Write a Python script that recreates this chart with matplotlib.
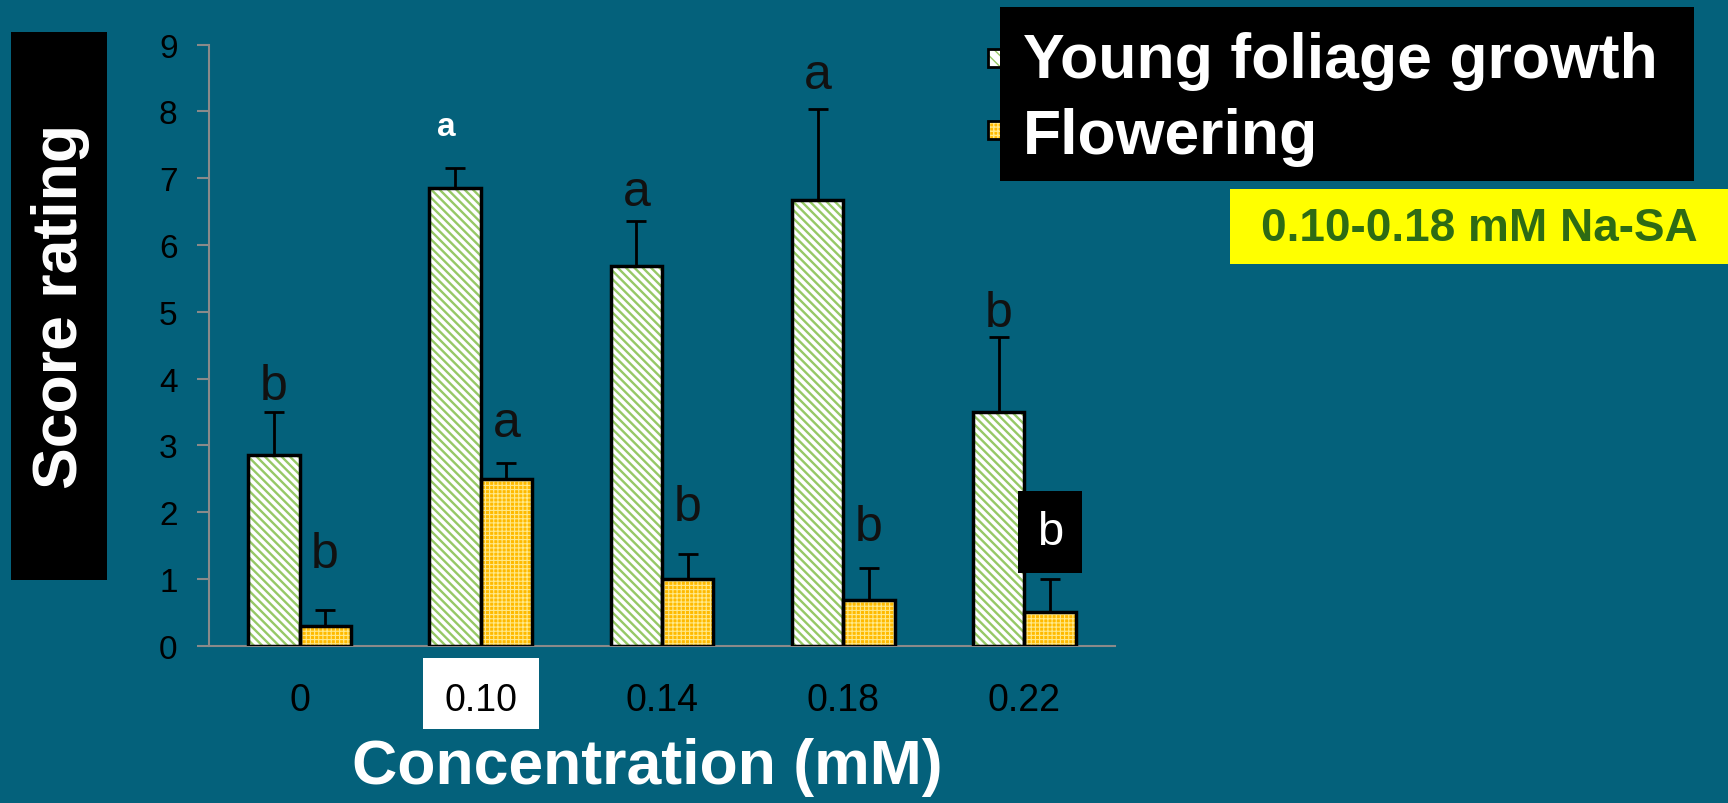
import numpy as np
import matplotlib
matplotlib.use('Agg')
import matplotlib.pyplot as plt
from matplotlib.patches import Rectangle
from matplotlib.transforms import blended_transform_factory

# datos
conc = ['0', '0.10', '0.14', '0.18', '0.22']
young = [2.85, 6.85, 5.68, 6.68, 3.5]
young_err = [0.65, 0.3, 0.68, 1.35, 1.12]
flower = [0.3, 2.5, 1.0, 0.68, 0.5]
flower_err = [0.24, 0.23, 0.37, 0.49, 0.5]
young_letters = ['b', 'a', 'a', 'a', 'b']
young_letter_y = [3.89, 7.77, 6.80, 8.55, 4.98]
flower_letters = ['b', 'a', 'b', 'b', 'b']
flower_letter_y = [1.37, 3.33, 2.08, 1.78, 1.70]
yticks = [0, 1, 2, 3, 4, 5, 6, 7, 8, 9]

bg = '#04617B'
green_hatch = '#96C865'
orange_face = '#FFBA00'
orange_hatch = '#FFE98A'
font = ['Liberation Sans', 'DejaVu Sans']


def set_hlw(bars, lw):
    for b in bars:
        if hasattr(b, 'set_hatch_linewidth'):
            b.set_hatch_linewidth(lw)


fig = plt.figure(figsize=(17.28, 8.04), dpi=100, facecolor=bg)
ax = fig.add_axes([0.1209, 0.1957, 0.6453 - 0.1209, 0.9432 - 0.1957])
ax.set_facecolor(bg)

x = np.arange(len(conc))
w = 0.283
xg = x - w / 2
xo = x + w / 2

# relleno rayado + contorno negro
with plt.rc_context({'hatch.linewidth': 1.7}):
    bg_bars = ax.bar(xg, young, w, color='white', edgecolor=green_hatch, hatch='\\\\\\\\', linewidth=0, zorder=2)
    set_hlw(bg_bars, 1.7)
with plt.rc_context({'hatch.linewidth': 0.8}):
    bo_bars = ax.bar(xo, flower, w, color=orange_face, edgecolor=orange_hatch, hatch='++++', linewidth=0, zorder=2)
    set_hlw(bo_bars, 0.8)
ax.bar(xg, young, w, fill=False, edgecolor='black', linewidth=2.5, zorder=3)
ax.bar(xo, flower, w, fill=False, edgecolor='black', linewidth=2.5, zorder=3)

ax.errorbar(xg, young, yerr=[np.zeros(len(young)), young_err], fmt='none',
            ecolor='black', elinewidth=2, capsize=7, capthick=2, zorder=1)
ax.errorbar(xo, flower, yerr=[np.zeros(len(flower)), flower_err], fmt='none',
            ecolor='black', elinewidth=2, capsize=7, capthick=2, zorder=1)

# letras de significancia
for i in range(len(conc)):
    if i == 1:
        ax.text(xg[i] - 0.05, young_letter_y[i], young_letters[i], ha='center', va='center',
                fontsize=24, color='white', fontweight='bold', family=font)
    else:
        ax.text(xg[i], young_letter_y[i], young_letters[i], ha='center', va='center',
                fontsize=36, color='#111111', family=font)
    if i == 4:
        ax.text(xo[i], flower_letter_y[i], flower_letters[i], ha='center', va='center',
                fontsize=34, color='white', family=font, zorder=5,
                bbox=dict(boxstyle='square', fc='black', ec='none', pad=0.4))
    else:
        ax.text(xo[i], flower_letter_y[i], flower_letters[i], ha='center', va='center',
                fontsize=36, color='#111111', family=font)

ax.set_xlim(-0.5, 4.5)
ax.set_ylim(0, 9)
ax.set_yticks(yticks)
ax.set_yticklabels([str(v) for v in yticks], fontsize=24, family=font, color='black')
ax.set_xticks(x)
ax.set_xticklabels(conc, fontsize=27, family=font, color='black')
ax.tick_params(axis='y', length=8.6, width=1.5, color='#8a8a8a', pad=14)
ax.tick_params(axis='x', length=0, pad=26)
for s in ['top', 'right']:
    ax.spines[s].set_visible(False)
for s in ['left', 'bottom']:
    ax.spines[s].set_color('#8a8a8a')
    ax.spines[s].set_linewidth(1.5)

# recuadro blanco del 0.10
tr = blended_transform_factory(ax.transData, fig.transFigure)
ax.add_patch(Rectangle((1 - 0.32, 0.092), 0.64, 0.088, transform=tr, facecolor='white',
                       edgecolor='none', clip_on=False, zorder=0))

# titulos de ejes
fig.text(0.3744, 0.046, 'Concentration (mM)', ha='center', va='center', fontsize=45,
         fontweight='bold', color='white', family=font)
fig.add_artist(Rectangle((0.0064, 0.2774), 0.0555, 0.959 - 0.2774, transform=fig.transFigure,
                         facecolor='black', edgecolor='none', zorder=2))
fig.text(0.0353, 0.619, 'Score rating', ha='center', va='center', rotation=90, fontsize=45,
         fontweight='bold', color='white', family=font, zorder=3)

# leyenda
fig.add_artist(Rectangle((0.5718, 0.9154), 0.0098, 0.0224, transform=fig.transFigure,
                         facecolor='white', edgecolor=green_hatch, hatch='\\\\\\', linewidth=0, zorder=1))
fig.add_artist(Rectangle((0.5718, 0.9154), 0.0098, 0.0224, transform=fig.transFigure,
                         fill=False, edgecolor='black', linewidth=2, zorder=1))
fig.add_artist(Rectangle((0.5718, 0.8259), 0.0098, 0.0224, transform=fig.transFigure,
                         facecolor=orange_face, edgecolor=orange_hatch, hatch='++++', linewidth=0, zorder=1))
fig.add_artist(Rectangle((0.5718, 0.8259), 0.0098, 0.0224, transform=fig.transFigure,
                         fill=False, edgecolor='black', linewidth=2, zorder=1))
fig.add_artist(Rectangle((0.5787, 0.7736), 0.9803 - 0.5787, 0.990 - 0.7736, transform=fig.transFigure,
                         facecolor='black', edgecolor='none', zorder=2))
fig.text(0.592, 0.924, 'Young foliage growth', ha='left', va='center', fontsize=45,
         fontweight='bold', color='white', family=font, zorder=3)
fig.text(0.592, 0.829, 'Flowering', ha='left', va='center', fontsize=45,
         fontweight='bold', color='white', family=font, zorder=3)

# recuadro amarillo
fig.add_artist(Rectangle((0.7118, 0.670), 1 - 0.7118, 0.7637 - 0.670, transform=fig.transFigure,
                         facecolor='#FFFF00', edgecolor='none', zorder=2))
fig.text(0.856, 0.7152, '0.10-0.18 mM Na-SA', ha='center', va='center', fontsize=33,
         fontweight='bold', color='#2E6B14', family=font, zorder=3)

fig.savefig('out.png', dpi=100, facecolor=bg)
